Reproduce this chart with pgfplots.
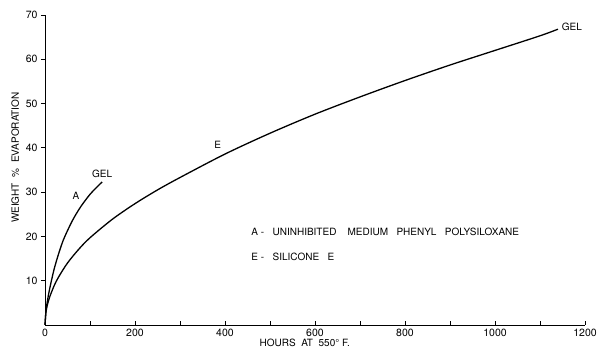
\documentclass[border=0pt]{standalone}
\usepackage{pgfplots}
\pgfplotsset{compat=1.18}
\usepackage{fontspec}
\setmainfont{TeX Gyre Heros}
\begin{document}
\begin{tikzpicture}[x=1pt,y=1pt]
\useasboundingbox (-45,-27) rectangle (552,325);
\begin{axis}[
  at={(0,0)}, anchor=origin,
  scale only axis, width=540pt, height=310pt,
  xmin=0, xmax=1200, ymin=0, ymax=70,
  axis x line*=bottom, axis y line*=left,
  axis line style={line width=0.9pt},
  xtick={0,200,...,1200}, minor xtick={100,300,...,1100},
  ytick={10,20,...,70},
  major tick length=4pt, minor tick length=4pt,
  xtick align=inside, ytick align=outside,
  tick style={line width=0.8pt, black},
  /pgf/number format/assume math mode=true,
  /pgf/number format/1000 sep={},
  tick label style={font=\fontsize{10.5}{11}\selectfont},
  xticklabel style={yshift=-1pt},
  clip=false,
  xlabel={HOURS\ \ AT\ \ 550\textdegree\ F.},
  xlabel style={font=\fontsize{10}{11}\selectfont, at={(axis description cs:0.481,-0.058)}, anchor=center},
  ylabel={WEIGHT\ \ \%\ \ EVAPORATION},
  ylabel style={font=\fontsize{10}{11}\selectfont, at={(axis description cs:-0.055,0.54)}, anchor=center, rotate=0},
]
% Curve A
\addplot[black, line width=1.3pt, smooth] coordinates {
(0,0) (2,3) (5,5.2) (10,8) (20,12.5) (30,16) (40,19) (50,21.3) (60,23.4) (70,25.2) (80,26.8) (90,28.2) (100,29.5) (110,30.6) (120,31.6) (127,32.3)};
% Curve E
\addplot[black, line width=1.3pt, smooth] coordinates {
(0,0) (2,2.8) (5,4.4) (10,6.2) (20,8.8) (30,10.8) (50,14) (75,17.1) (100,19.7) (150,23.9) (200,27.4) (250,30.5) (300,33.3) (400,38.6) (500,43.3) (600,47.6) (700,51.5) (800,55.2) (900,58.7) (1000,62) (1100,65.3) (1140,66.8)};
\node[font=\fontsize{10}{11}\selectfont] at (axis cs:127,34.2) {GEL};
\node[font=\fontsize{10}{11}\selectfont] at (axis cs:69,29.2) {A};
\node[font=\fontsize{10}{11}\selectfont] at (axis cs:384,40.6) {E};
\node[font=\fontsize{10}{11}\selectfont] at (axis cs:1171,67.3) {GEL};
\node[font=\fontsize{10}{11}\selectfont, anchor=west] at (axis cs:451,21) {A\ -\ \ \ UNINHIBITED\ \ \ \ MEDIUM\ \ \ PHENYL\ \ \ POLYSILOXANE};
\node[font=\fontsize{10}{11}\selectfont, anchor=west] at (axis cs:451,15.4) {E\ -\ \ \ SILICONE\ \ \ E};
\end{axis}
\end{tikzpicture}
\end{document}
